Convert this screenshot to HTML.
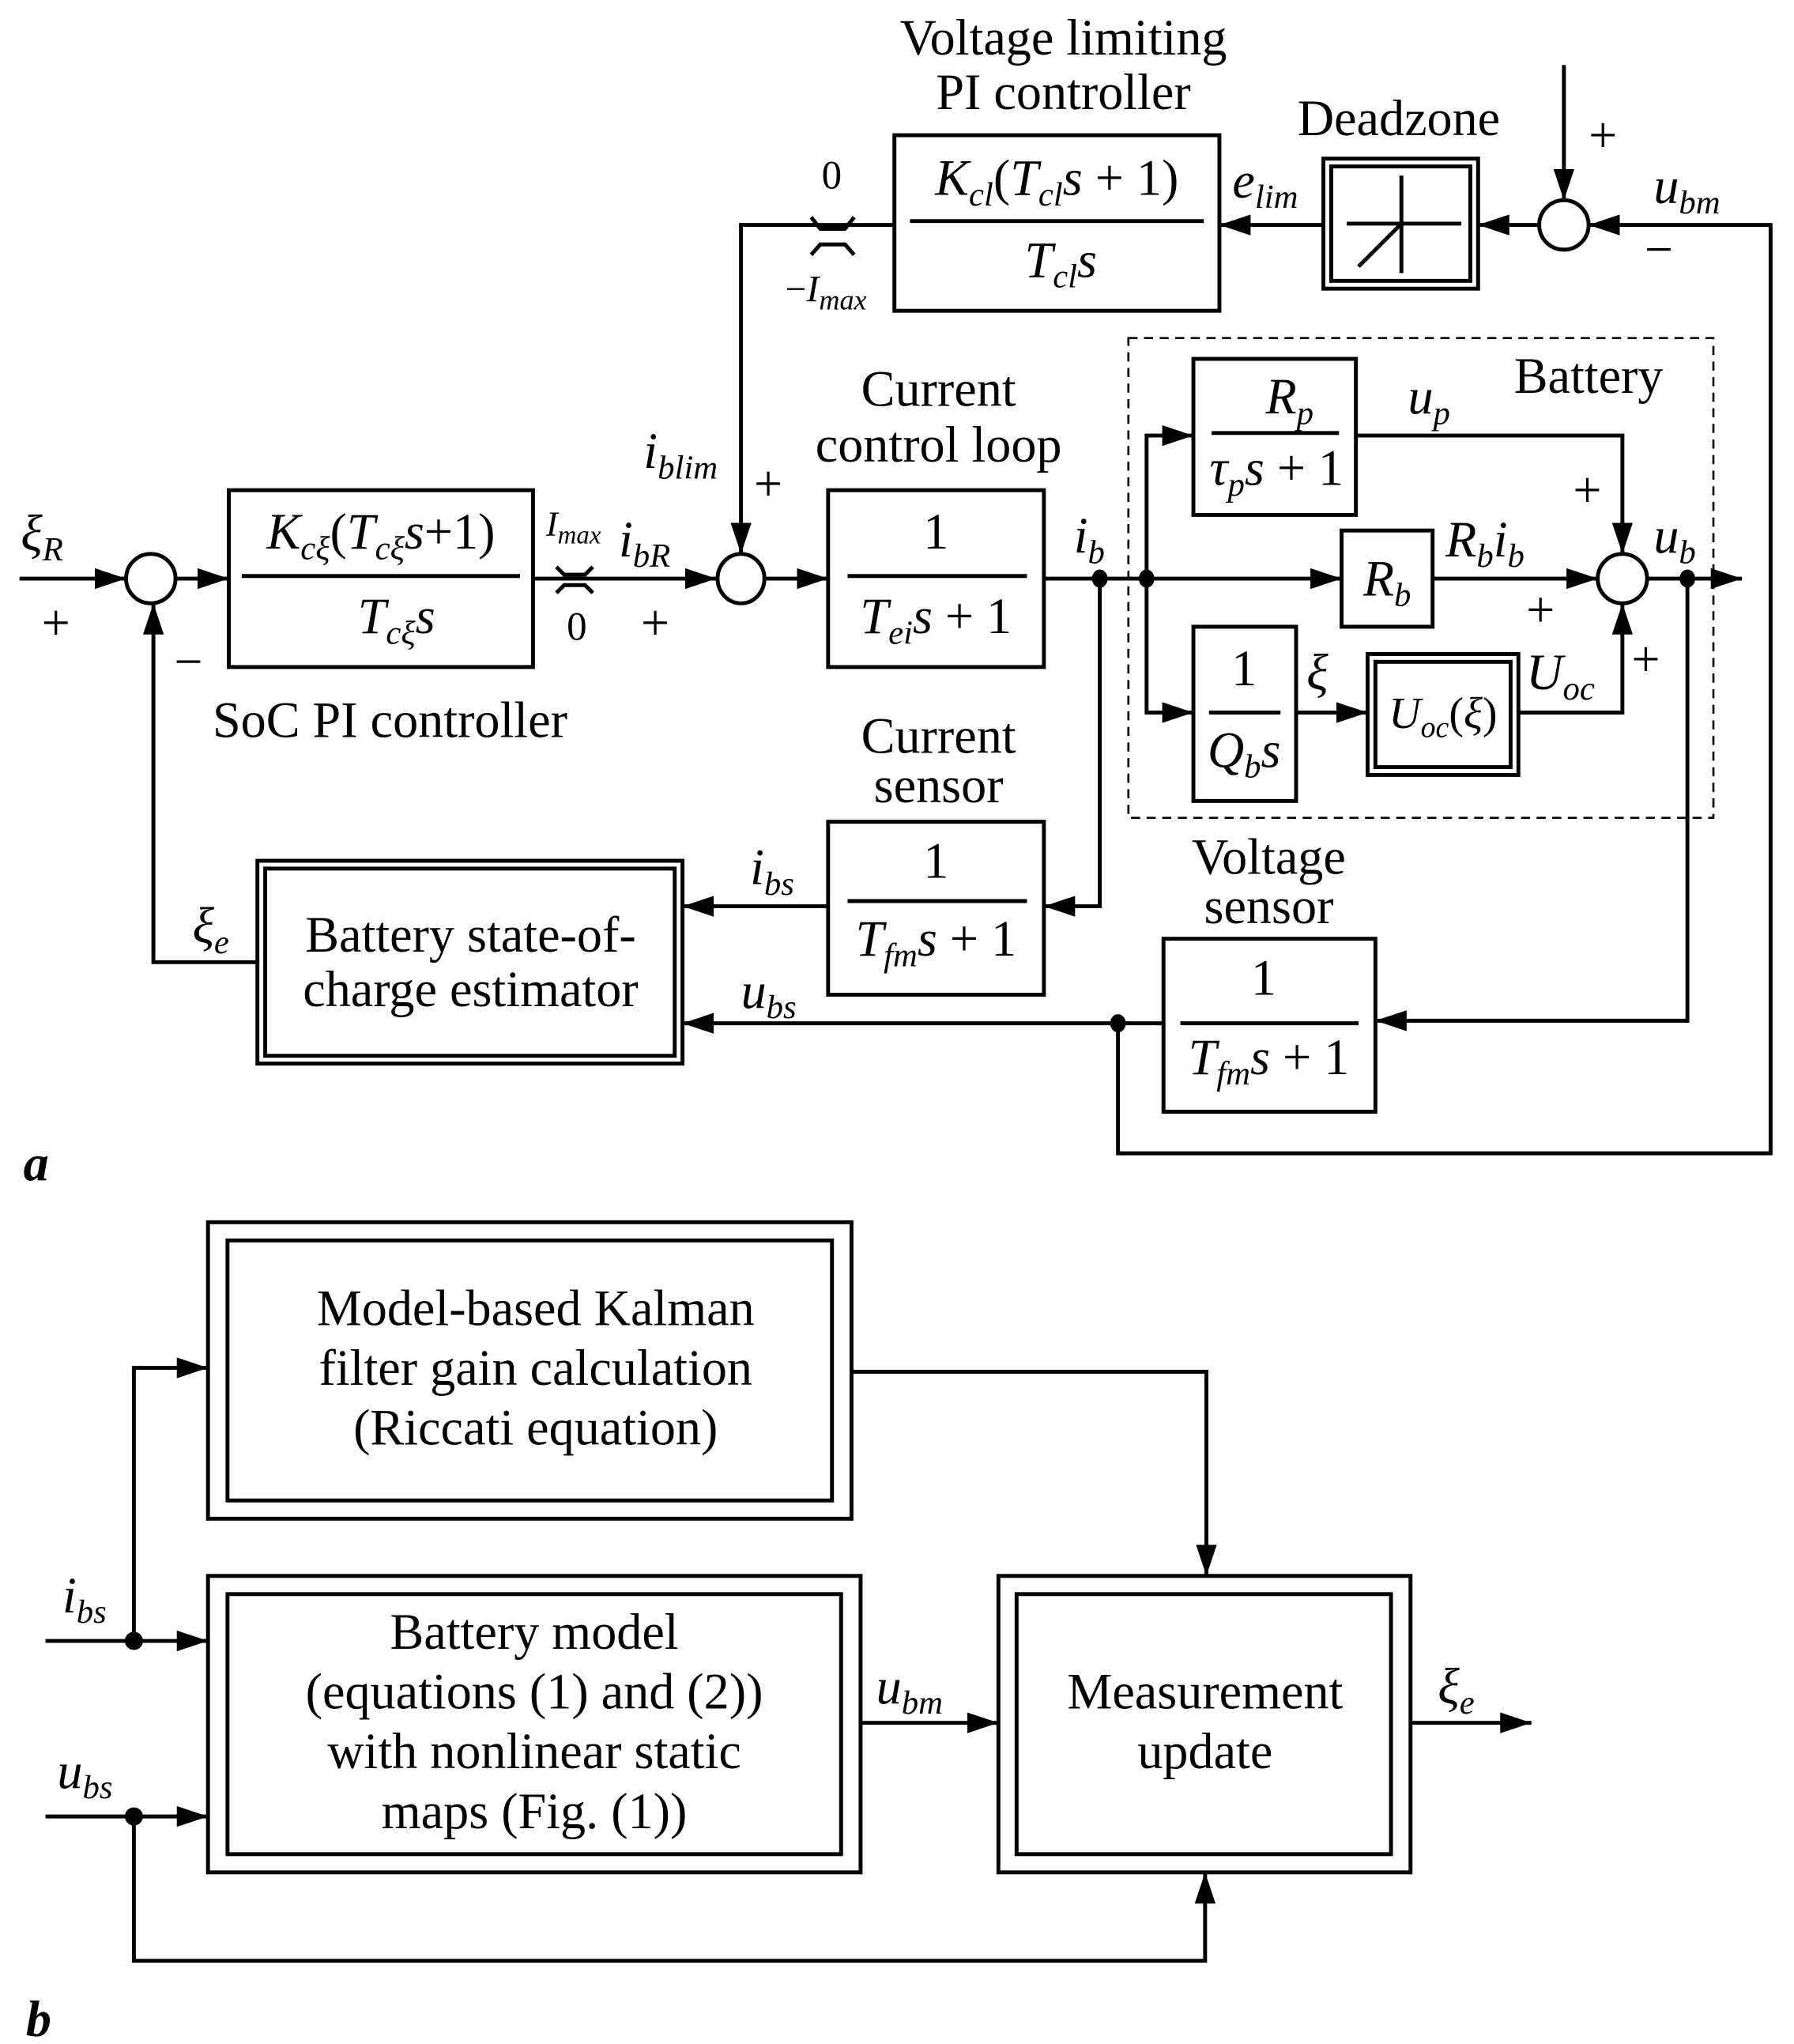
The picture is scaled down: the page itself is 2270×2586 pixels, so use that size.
<!DOCTYPE html>
<html><head><meta charset="utf-8"><style>
html,body{margin:0;padding:0;background:#fff;}
svg{display:block}
text{font-family:"Liberation Serif",serif;fill:#000}
.i{font-style:italic}
</style></head><body>
<svg width="2270" height="2586" viewBox="0 0 1380 1572" preserveAspectRatio="none" xmlns="http://www.w3.org/2000/svg">
<defs>
<marker id="a" viewBox="0 0 24 16" refX="24" refY="8" markerWidth="24" markerHeight="16" markerUnits="userSpaceOnUse" orient="auto">
<path d="M0,0 L24,8 L0,16 Z" fill="#000"/></marker>
</defs>
<g fill="none" stroke="#000" stroke-width="3">
<line x1="15" y1="445" x2="97" y2="445" marker-end="url(#a)"/>
<ellipse cx="116" cy="445" rx="19" ry="19"/>
<line x1="135" y1="445" x2="176" y2="445" marker-end="url(#a)"/>
<rect x="176" y="377" width="234" height="136"/>
<line x1="186" y1="443" x2="400" y2="443"/>
<line x1="410" y1="445" x2="551" y2="445" marker-end="url(#a)"/>
<path d="M428,436 L434,442 L450,442 L456,436 M428,456 L434,450 L450,450 L456,456"/>
<ellipse cx="570" cy="445" rx="18" ry="19"/>
<line x1="589" y1="445" x2="637" y2="445" marker-end="url(#a)"/>
<rect x="637" y="377" width="166" height="136"/>
<line x1="652" y1="443" x2="790" y2="443"/>
<line x1="803" y1="445" x2="1032" y2="445" marker-end="url(#a)"/>
<polyline points="198,740 118,740 118,464" marker-end="url(#a)"/>
<polyline points="688,173 570,173 570,426" marker-end="url(#a)"/>
<path d="M624,167 L631,176 L650,176 L657,167 M624,196 L631,188 L650,188 L657,196"/>
<rect x="688" y="104" width="250" height="135"/>
<line x1="700" y1="170" x2="926" y2="170"/>
<line x1="1018" y1="173" x2="938" y2="173" marker-end="url(#a)"/>
<rect x="1018" y="122" width="119" height="100"/>
<rect x="1024" y="128" width="107" height="88"/>
<path d="M1036,172 L1124,172 M1078,135 L1078,210 M1045,205 L1078,172"/>
<line x1="1184" y1="173" x2="1137" y2="173" marker-end="url(#a)"/>
<ellipse cx="1203" cy="173" rx="19" ry="19"/>
<line x1="1203" y1="50" x2="1203" y2="154" marker-end="url(#a)"/>
<polyline points="860,787 860,887 1362,887 1362,173 1222,173" marker-end="url(#a)"/>
<rect x="868" y="260" width="450" height="369" stroke-width="1.6" stroke-dasharray="7,5"/>
<polyline points="882,445 882,335 918,335" marker-end="url(#a)"/>
<polyline points="882,445 882,548 918,548" marker-end="url(#a)"/>
<rect x="918" y="276" width="125" height="120"/>
<line x1="932" y1="333" x2="1030" y2="333"/>
<rect x="1032" y="408" width="70" height="74"/>
<rect x="918" y="482" width="79" height="134"/>
<line x1="930" y1="548" x2="985" y2="548"/>
<line x1="997" y1="548" x2="1052" y2="548" marker-end="url(#a)"/>
<rect x="1052" y="503" width="116" height="93"/>
<rect x="1058" y="509" width="104" height="81"/>
<polyline points="1168,548 1248,548 1248,464" marker-end="url(#a)"/>
<polyline points="1043,335 1248,335 1248,426" marker-end="url(#a)"/>
<line x1="1102" y1="445" x2="1229" y2="445" marker-end="url(#a)"/>
<ellipse cx="1248" cy="445" rx="19" ry="19"/>
<line x1="1267" y1="445" x2="1340" y2="445" marker-end="url(#a)"/>
<polyline points="1298,445 1298,785 1058,785" marker-end="url(#a)"/>
<rect x="895" y="722" width="163" height="133"/>
<line x1="908" y1="787" x2="1045" y2="787"/>
<line x1="895" y1="787" x2="525" y2="787" marker-end="url(#a)"/>
<polyline points="846,445 846,697 803,697" marker-end="url(#a)"/>
<rect x="637" y="632" width="166" height="133"/>
<line x1="652" y1="693" x2="790" y2="693"/>
<line x1="637" y1="697" x2="525" y2="697" marker-end="url(#a)"/>
<rect x="198" y="662" width="327" height="156"/>
<rect x="204" y="668" width="315" height="144"/>
<rect x="160" y="940" width="495" height="228"/>
<rect x="175" y="954" width="465" height="200"/>
<rect x="160" y="1212" width="502" height="228"/>
<rect x="175" y="1226" width="472" height="200"/>
<rect x="768" y="1212" width="317" height="228"/>
<rect x="782" y="1226" width="288" height="200"/>
<line x1="35" y1="1262" x2="160" y2="1262" marker-end="url(#a)"/>
<polyline points="103,1262 103,1052 160,1052" marker-end="url(#a)"/>
<line x1="35" y1="1397" x2="160" y2="1397" marker-end="url(#a)"/>
<polyline points="103,1397 103,1508 927,1508 927,1440" marker-end="url(#a)"/>
<polyline points="655,1055 928,1055 928,1212" marker-end="url(#a)"/>
<line x1="662" y1="1325" x2="768" y2="1325" marker-end="url(#a)"/>
<line x1="1085" y1="1325" x2="1178" y2="1325" marker-end="url(#a)"/>
</g>
<g fill="#000">
<ellipse cx="846" cy="445" rx="6" ry="7"/><ellipse cx="882" cy="445" rx="6" ry="7"/>
<ellipse cx="1298" cy="445" rx="6" ry="7"/><ellipse cx="860" cy="787" rx="6" ry="7"/>
<ellipse cx="103" cy="1262" rx="7" ry="7"/><ellipse cx="103" cy="1397" rx="7" ry="7"/>
</g>
<g font-size="39">
<text x="818" y="42" text-anchor="middle">Voltage limiting</text>
<text x="818" y="84" text-anchor="middle">PI controller</text>
<text x="1076" y="104" text-anchor="middle">Deadzone</text>
<text x="722" y="312" text-anchor="middle">Current</text>
<text x="722" y="355" text-anchor="middle">control loop</text>
<text x="1222" y="302" text-anchor="middle">Battery</text>
<text x="300" y="567" text-anchor="middle">SoC PI controller</text>
<text x="722" y="579" text-anchor="middle">Current</text>
<text x="722" y="617" text-anchor="middle">sensor</text>
<text x="976" y="672" text-anchor="middle">Voltage</text>
<text x="976" y="710" text-anchor="middle">sensor</text>
<text x="362" y="732" text-anchor="middle">Battery state-of-</text>
<text x="362" y="774" text-anchor="middle">charge estimator</text>
<text x="412" y="1019" text-anchor="middle">Model-based Kalman</text>
<text x="412" y="1065" text-anchor="middle">filter gain calculation</text>
<text x="412" y="1111" text-anchor="middle">(Riccati equation)</text>
<text x="411" y="1268" text-anchor="middle">Battery model</text>
<text x="411" y="1314" text-anchor="middle">(equations (1) and (2))</text>
<text x="411" y="1360" text-anchor="middle">with nonlinear static</text>
<text x="411" y="1406" text-anchor="middle">maps (Fig. (1))</text>
<text x="927" y="1314" text-anchor="middle">Measurement</text>
<text x="927" y="1360" text-anchor="middle">update</text>
<text x="293" y="422" text-anchor="middle"><tspan class="i">K</tspan><tspan class="i" font-size="26" dy="8">cξ</tspan><tspan dy="-8">(</tspan><tspan class="i">T</tspan><tspan class="i" font-size="26" dy="8">cξ</tspan><tspan class="i" dy="-8">s</tspan>+1)</text>
<text x="305" y="487" text-anchor="middle"><tspan class="i">T</tspan><tspan class="i" font-size="26" dy="8">cξ</tspan><tspan class="i" dy="-8">s</tspan></text>
<text x="720" y="422" text-anchor="middle">1</text>
<text x="720" y="487" text-anchor="middle"><tspan class="i">T</tspan><tspan class="i" font-size="26" dy="8">ei</tspan><tspan class="i" dy="-8">s</tspan> + 1</text>
<text x="813" y="150" text-anchor="middle"><tspan class="i">K</tspan><tspan class="i" font-size="26" dy="8">cl</tspan><tspan dy="-8">(</tspan><tspan class="i">T</tspan><tspan class="i" font-size="26" dy="8">cl</tspan><tspan class="i" dy="-8">s</tspan> + 1)</text>
<text x="816" y="213" text-anchor="middle"><tspan class="i">T</tspan><tspan class="i" font-size="26" dy="8">cl</tspan><tspan class="i" dy="-8">s</tspan></text>
<text x="992" y="318" text-anchor="middle"><tspan class="i">R</tspan><tspan class="i" font-size="26" dy="8">p</tspan></text>
<text x="982" y="373" text-anchor="middle"><tspan class="i">τ</tspan><tspan class="i" font-size="26" dy="8">p</tspan><tspan class="i" dy="-8">s</tspan> + 1</text>
<text x="1067" y="458" text-anchor="middle"><tspan class="i">R</tspan><tspan class="i" font-size="26" dy="8">b</tspan></text>
<text x="957" y="527" text-anchor="middle">1</text>
<text x="957" y="590" text-anchor="middle"><tspan class="i">Q</tspan><tspan class="i" font-size="26" dy="8">b</tspan><tspan class="i" dy="-8">s</tspan></text>
<text x="1110" y="560" text-anchor="middle" font-size="34"><tspan class="i">U</tspan><tspan class="i" font-size="23" dy="7">oc</tspan><tspan dy="-7">(</tspan><tspan class="i">ξ</tspan>)</text>
<text x="720" y="675" text-anchor="middle">1</text>
<text x="720" y="735" text-anchor="middle"><tspan class="i">T</tspan><tspan class="i" font-size="26" dy="8">fm</tspan><tspan class="i" dy="-8">s</tspan> + 1</text>
<text x="972" y="765" text-anchor="middle">1</text>
<text x="976" y="826" text-anchor="middle"><tspan class="i">T</tspan><tspan class="i" font-size="26" dy="8">fm</tspan><tspan class="i" dy="-8">s</tspan> + 1</text>
<text x="16" y="423" class="i">ξ<tspan font-size="26" dy="8">R</tspan></text>
<text x="32" y="492">+</text>
<text x="134" y="522">−</text>
<text x="148" y="725" class="i">ξ<tspan font-size="26" dy="8">e</tspan></text>
<text x="420" y="412" class="i" font-size="27">I<tspan font-size="20" dy="6">max</tspan></text>
<text x="476" y="428" class="i">i<tspan font-size="26" dy="8">bR</tspan></text>
<text x="436" y="492" font-size="31">0</text>
<text x="493" y="492">+</text>
<text x="495" y="360" class="i">i<tspan font-size="26" dy="8">blim</tspan></text>
<text x="580" y="385">+</text>
<text x="632" y="145" font-size="31">0</text>
<text x="604" y="232" font-size="29">−<tspan class="i">I</tspan><tspan class="i" font-size="22" dy="6">max</tspan></text>
<text x="948" y="152" class="i">e<tspan font-size="26" dy="8">lim</tspan></text>
<text x="1222" y="117">+</text>
<text x="1265" y="205">−</text>
<text x="1272" y="156" class="i">u<tspan font-size="26" dy="8">bm</tspan></text>
<text x="826" y="425" class="i">i<tspan font-size="26" dy="8">b</tspan></text>
<text x="1083" y="318" class="i">u<tspan font-size="26" dy="8">p</tspan></text>
<text x="1210" y="390">+</text>
<text x="1112" y="428" class="i">R<tspan font-size="26" dy="8">b</tspan><tspan dy="-8">i</tspan><tspan font-size="26" dy="8">b</tspan></text>
<text x="1174" y="482">+</text>
<text x="1272" y="425" class="i">u<tspan font-size="26" dy="8">b</tspan></text>
<text x="1255" y="520">+</text>
<text x="1005" y="530" class="i">ξ</text>
<text x="1174" y="530" class="i">U<tspan font-size="26" dy="8">oc</tspan></text>
<text x="577" y="680" class="i">i<tspan font-size="26" dy="8">bs</tspan></text>
<text x="570" y="775" class="i">u<tspan font-size="26" dy="8">bs</tspan></text>
<text x="18" y="908" class="i" font-weight="bold">a</text>
<text x="48" y="1240" class="i">i<tspan font-size="26" dy="8">bs</tspan></text>
<text x="44" y="1375" class="i">u<tspan font-size="26" dy="8">bs</tspan></text>
<text x="674" y="1310" class="i">u<tspan font-size="26" dy="8">bm</tspan></text>
<text x="1106" y="1310" class="i">ξ<tspan font-size="26" dy="8">e</tspan></text>
<text x="20" y="1566" class="i" font-weight="bold">b</text>
</g>
</svg>
</body></html>
